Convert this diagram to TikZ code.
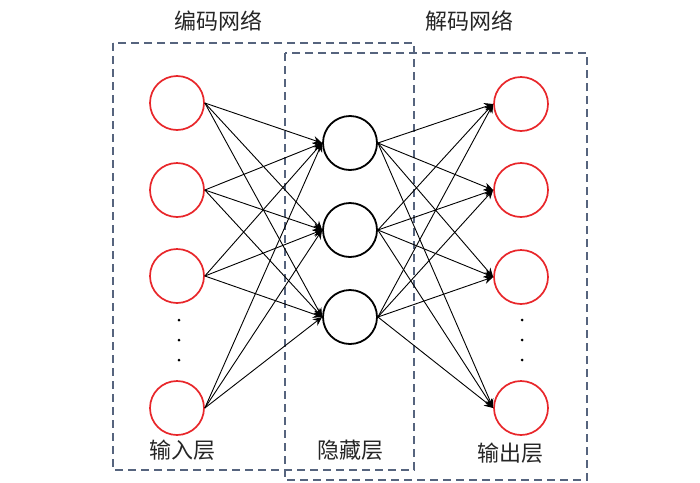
\documentclass[tikz,border=0pt]{standalone}
\usepackage{fontspec}
\newfontfamily\cjk{Noto Sans CJK SC}
\usetikzlibrary{arrows.meta}
\definecolor{boxc}{HTML}{56647E}
\definecolor{redc}{HTML}{E8262A}
\tikzset{
  inode/.style={circle,draw=redc,line width=1.7pt,minimum size=54pt,inner sep=0pt},
  hnode/.style={circle,draw=black,line width=1.8pt,minimum size=54pt,inner sep=0pt},
  conn/.style={line width=0.9pt,-{Stealth[length=9pt,width=8pt]}},
  dbox/.style={draw=boxc,line width=1.2pt,dash pattern=on 8pt off 5pt},
  lbl/.style={font=\cjk\fontsize{22}{24}\selectfont,inner sep=0pt,text=black!85},
  dotc/.style={circle,fill=black,inner sep=0pt,minimum size=3pt}
}
\begin{document}
\begin{tikzpicture}[x=1pt,y=-1pt]
\useasboundingbox (0,0) rectangle (700,482);
% boxes
\draw[dbox] (113,43) rectangle (414,470);
\draw[dbox] (285,53) rectangle (587,480);
% input
\node[inode] (i1) at (177,103) {};
\node[inode] (i2) at (177,190) {};
\node[inode] (i3) at (177,276) {};
\node[inode] (i4) at (177,408) {};
% hidden
\node[hnode] (h1) at (350,143) {};
\node[hnode] (h2) at (350,230) {};
\node[hnode] (h3) at (350,317) {};
% output
\node[inode] (o1) at (521,104) {};
\node[inode] (o2) at (521,190) {};
\node[inode] (o3) at (521,277) {};
\node[inode] (o4) at (521,408) {};
% dots
\node[dotc] (d1) at (179,320) {};
\node[dotc] (d2) at (179,340) {};
\node[dotc] (d3) at (179,360) {};
\node[dotc] (e1) at (522,320) {};
\node[dotc] (e2) at (522,340) {};
\node[dotc] (e3) at (522,360) {};
% connections
\foreach \i in {1,2,3,4}{
  \foreach \h in {1,2,3}{
    \draw[conn] (i\i.east) -- (h\h.west);
    \draw[conn] (h\h.east) -- (o\i.west);
  }
}
% labels
\node[lbl] (t1) at (218,21) {编码网络};
\node[lbl] (t2) at (469,21) {解码网络};
\node[lbl] (t3) at (182,450) {输入层};
\node[lbl] (t4) at (350,450) {隐藏层};
\node[lbl] (t5) at (510,453) {输出层};
\end{tikzpicture}
\end{document}
